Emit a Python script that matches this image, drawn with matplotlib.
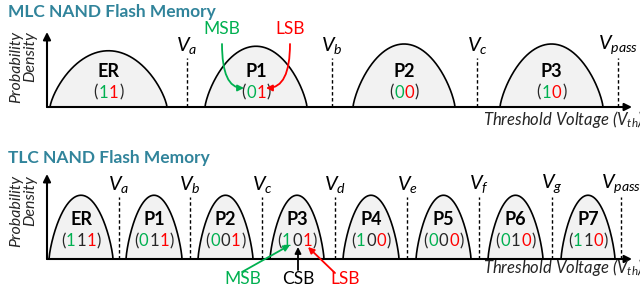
import numpy as np
import matplotlib
import matplotlib.pyplot as plt
from matplotlib.offsetbox import TextArea, HPacker, AnnotationBbox

plt.rcParams['font.family'] = ['Lato', 'DejaVu Sans']
plt.rcParams['mathtext.fontset'] = 'custom'
plt.rcParams['mathtext.rm'] = 'Lato'
plt.rcParams['mathtext.it'] = 'Lato:italic'
plt.rcParams['mathtext.bf'] = 'Lato:bold'

# ---- data (threshold voltage in arbitrary units, density normalised) ----
mlc_states = ['ER', 'P1', 'P2', 'P3']
mlc_center = [0.615, 2.09, 3.57, 5.045]
mlc_halfwidth = [0.585, 0.51, 0.51, 0.515]
mlc_peak = [0.75, 0.81, 0.84, 0.84]
mlc_bits = ['11', '01', '00', '10']
mlc_vref = [1.40, 2.85, 4.30, 5.71]
mlc_vref_names = ['a', 'b', 'c', 'pass']

tlc_states = ['ER', 'P1', 'P2', 'P3', 'P4', 'P5', 'P6', 'P7']
tlc_center = [0.34, 1.07, 1.785, 2.50, 3.24, 3.965, 4.685, 5.41]
tlc_halfwidth = [0.32, 0.28, 0.275, 0.27, 0.28, 0.275, 0.275, 0.27]
tlc_peak = [0.75, 0.75, 0.75, 0.75, 0.75, 0.75, 0.75, 0.75]
tlc_bits = ['111', '011', '001', '101', '100', '000', '010', '110']
tlc_vref = [0.72, 1.43, 2.15, 2.88, 3.60, 4.32, 5.05, 5.74]
tlc_vref_names = ['a', 'b', 'c', 'd', 'e', 'f', 'g', 'pass']

TEAL = '#31849B'
GREEN = '#00B050'
RED = '#FF0000'
FILL = '#F2F2F2'
DARK = '#262626'

W, H = 640, 284
fig = plt.figure(figsize=(W / 100, H / 100), dpi=100)


def draw_panel(base_px, height_px, centers, hws, peaks, names, bits, bit_colors,
               vrefs, vnames, vtop, name_y, bit_y):
    ax = fig.add_axes([47 / W, (H - base_px) / H, 585 / W, height_px / H])
    ax.set_xlim(0, 5.85)
    ax.set_ylim(0, 1)
    ax.axis('off')

    for c, hw, pk, nm, b in zip(centers, hws, peaks, names, bits):
        x = np.linspace(c - hw, c + hw, 200)
        y = pk * np.clip(1 - ((x - c) / hw) ** 2, 0, None) ** 0.75
        ax.fill_between(x, y, color=FILL, lw=0)
        ax.plot(x, y, color='k', lw=1.2)
        ax.text(c, name_y, nm, ha='center', va='center', fontsize=13,
                fontweight='bold', color='k')
        parts = [TextArea('(', textprops=dict(color=DARK, fontsize=12))]
        for ch, col in zip(b, bit_colors):
            parts.append(TextArea(ch, textprops=dict(color=col, fontsize=12)))
        parts.append(TextArea(')', textprops=dict(color=DARK, fontsize=12)))
        box = HPacker(children=parts, pad=0, sep=0.5, align='baseline')
        ax.add_artist(AnnotationBbox(box, (c, bit_y), frameon=False,
                                     box_alignment=(0.5, 0.5), pad=0))

    for v, vn in zip(vrefs, vnames):
        ax.plot([v, v], [0, vtop], color='k', lw=1.0, dashes=(2.5, 1.8))
        ax.annotate(r'$V_{%s}$' % vn, xy=(v, vtop), xytext=(0, 1.5),
                    textcoords='offset points', ha='center', va='bottom',
                    fontsize=14.5, color='k', annotation_clip=False)

    ax.annotate('', xy=(5.85, 0), xytext=(0, 0),
                arrowprops=dict(arrowstyle='-|>', lw=1.5, color='k',
                                mutation_scale=11, shrinkA=0, shrinkB=0),
                annotation_clip=False)
    ax.annotate('', xy=(0, 1), xytext=(0, 0),
                arrowprops=dict(arrowstyle='-|>', lw=1.5, color='k',
                                mutation_scale=11, shrinkA=0, shrinkB=0),
                annotation_clip=False)
    return ax


draw_panel(107, 75, mlc_center, mlc_halfwidth, mlc_peak, mlc_states, mlc_bits,
           [GREEN, RED], mlc_vref, mlc_vref_names, 0.65, 0.48, 0.19)
draw_panel(259, 85, tlc_center, tlc_halfwidth, tlc_peak, tlc_states, tlc_bits,
           [GREEN, DARK, RED], tlc_vref, tlc_vref_names, 0.73, 0.46, 0.21)

# overlay in pixel coordinates for titles and annotations
bg = fig.add_axes([0, 0, 1, 1], facecolor='none')
bg.set_xlim(0, W)
bg.set_ylim(H, 0)
bg.axis('off')

for ty, title in [(12, 'MLC NAND Flash Memory'), (158, 'TLC NAND Flash Memory')]:
    bg.text(8, ty, title, ha='left', va='center', fontsize=12.5,
            fontweight='bold', color=TEAL)

for top in (31, 175):
    bg.text(23, top, 'Probability\nDensity', rotation=90, ha='center',
            va='top', multialignment='right', fontsize=11.5, style='italic',
            linespacing=1.0, color=DARK)

for ty in (120, 268):
    bg.text(483, ty, r'Threshold Voltage ($V_{th}$)', ha='left', va='center',
            fontsize=12, style='italic', color=DARK, clip_on=False)

arrow_kw = dict(arrowstyle='-|>', lw=1.3, mutation_scale=9, shrinkA=0, shrinkB=0)

# MLC bit labels
bg.text(222, 29, 'MSB', ha='center', va='center', fontsize=12.5, color=GREEN)
bg.text(290, 29, 'LSB', ha='center', va='center', fontsize=12.5, color=RED)
bg.annotate('', xy=(244, 88), xytext=(222, 44),
            arrowprops=dict(color=GREEN, connectionstyle='angle3,angleA=90,angleB=0', **arrow_kw))
bg.annotate('', xy=(266, 88), xytext=(290, 44),
            arrowprops=dict(color=RED, connectionstyle='angle3,angleA=90,angleB=0', **arrow_kw))

# TLC bit labels
bg.text(243, 271, 'MSB', ha='center', va='top', fontsize=12.5, color=GREEN)
bg.text(298, 271, 'CSB', ha='center', va='top', fontsize=12.5, color='k')
bg.text(345, 271, 'LSB', ha='center', va='top', fontsize=12.5, color=RED)
bg.annotate('', xy=(290, 245), xytext=(242, 272), arrowprops=dict(color=GREEN, **arrow_kw))
bg.annotate('', xy=(298, 247), xytext=(298, 270), arrowprops=dict(color='k', **arrow_kw))
bg.annotate('', xy=(308, 247), xytext=(335, 273), arrowprops=dict(color=RED, **arrow_kw))

fig.savefig('out.png', dpi=100)
